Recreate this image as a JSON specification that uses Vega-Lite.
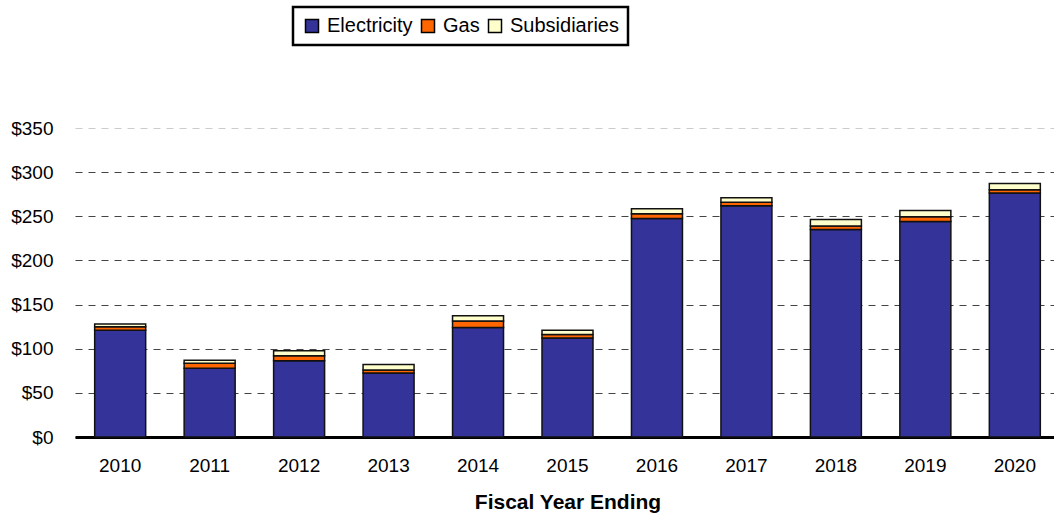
{
  "$schema": "https://vega.github.io/schema/vega-lite/v6.json",
  "autosize": {"type": "none"},
  "width": 985,
  "height": 309,
  "padding": {"left": 75, "top": 128, "right": 0, "bottom": 77},
  "background": "white",
  "config": {
    "font": "Liberation Sans",
    "view": {"stroke": null},
    "legend": {"strokeWidth": 2.5}
  },
  "data": {
    "values": [
      {"year": "2010", "type": "Electricity", "ord": 1, "value": 121},
      {"year": "2010", "type": "Gas", "ord": 2, "value": 4},
      {"year": "2010", "type": "Subsidiaries", "ord": 3, "value": 3},
      {"year": "2011", "type": "Electricity", "ord": 1, "value": 78},
      {"year": "2011", "type": "Gas", "ord": 2, "value": 5.5},
      {"year": "2011", "type": "Subsidiaries", "ord": 3, "value": 3.5},
      {"year": "2012", "type": "Electricity", "ord": 1, "value": 86.5},
      {"year": "2012", "type": "Gas", "ord": 2, "value": 5.5},
      {"year": "2012", "type": "Subsidiaries", "ord": 3, "value": 5.7},
      {"year": "2013", "type": "Electricity", "ord": 1, "value": 72.5},
      {"year": "2013", "type": "Gas", "ord": 2, "value": 3.5},
      {"year": "2013", "type": "Subsidiaries", "ord": 3, "value": 6},
      {"year": "2014", "type": "Electricity", "ord": 1, "value": 124},
      {"year": "2014", "type": "Gas", "ord": 2, "value": 7.5},
      {"year": "2014", "type": "Subsidiaries", "ord": 3, "value": 5.8},
      {"year": "2015", "type": "Electricity", "ord": 1, "value": 112},
      {"year": "2015", "type": "Gas", "ord": 2, "value": 4},
      {"year": "2015", "type": "Subsidiaries", "ord": 3, "value": 5},
      {"year": "2016", "type": "Electricity", "ord": 1, "value": 247.5},
      {"year": "2016", "type": "Gas", "ord": 2, "value": 5.5},
      {"year": "2016", "type": "Subsidiaries", "ord": 3, "value": 5.6},
      {"year": "2017", "type": "Electricity", "ord": 1, "value": 262},
      {"year": "2017", "type": "Gas", "ord": 2, "value": 4},
      {"year": "2017", "type": "Subsidiaries", "ord": 3, "value": 5},
      {"year": "2018", "type": "Electricity", "ord": 1, "value": 235},
      {"year": "2018", "type": "Gas", "ord": 2, "value": 4},
      {"year": "2018", "type": "Subsidiaries", "ord": 3, "value": 7.3},
      {"year": "2019", "type": "Electricity", "ord": 1, "value": 244},
      {"year": "2019", "type": "Gas", "ord": 2, "value": 5.5},
      {"year": "2019", "type": "Subsidiaries", "ord": 3, "value": 7.1},
      {"year": "2020", "type": "Electricity", "ord": 1, "value": 276.5},
      {"year": "2020", "type": "Gas", "ord": 2, "value": 3.5},
      {"year": "2020", "type": "Subsidiaries", "ord": 3, "value": 7}
    ]
  },
  "mark": {"type": "bar", "stroke": "#111111", "strokeWidth": 1.5},
  "encoding": {
    "x": {
      "field": "year",
      "type": "ordinal",
      "scale": {"paddingInner": 0.43, "paddingOuter": 0.22},
      "axis": {
        "title": "Fiscal Year Ending",
        "titleFontSize": 21,
        "titleFontWeight": "bold",
        "titleColor": "#000000",
        "titlePadding": 16,
        "labelAngle": 0,
        "labelFontSize": 19,
        "labelColor": "#000000",
        "labelPadding": 19,
        "ticks": false,
        "domainColor": "#000000",
        "domainWidth": 3,
        "grid": false
      }
    },
    "y": {
      "field": "value",
      "type": "quantitative",
      "stack": "zero",
      "scale": {"domain": [0, 350]},
      "axis": {
        "title": null,
        "values": [0, 50, 100, 150, 200, 250, 300, 350],
        "labelExpr": "'$' + datum.value",
        "labelFontSize": 19,
        "labelColor": "#000000",
        "labelPadding": 22,
        "ticks": false,
        "domain": false,
        "grid": true,
        "gridDash": [7, 6],
        "gridWidth": 1.2,
        "gridColor": {"condition": {"test": "datum.value === 350", "value": "#cccccc"}, "value": "#444444"}
      }
    },
    "color": {
      "field": "type",
      "type": "nominal",
      "scale": {
        "domain": ["Electricity", "Gas", "Subsidiaries"],
        "range": ["#333399", "#FF6600", "#FFFFCC"]
      },
      "legend": {
        "title": null,
        "orient": "none",
        "legendX": 218,
        "legendY": -121,
        "direction": "horizontal",
        "symbolType": "square",
        "symbolSize": 169,
        "symbolStrokeColor": "#000000",
        "symbolStrokeWidth": 1.5,
        "symbolOpacity": 1,
        "labelFontSize": 20,
        "labelColor": "#000000",
        "labelOffset": 5,
        "columnPadding": 5,
        "padding": 9,
        "strokeColor": "#000000",
        "fillColor": "white"
      }
    },
    "order": {"field": "ord", "type": "quantitative"}
  }
}
